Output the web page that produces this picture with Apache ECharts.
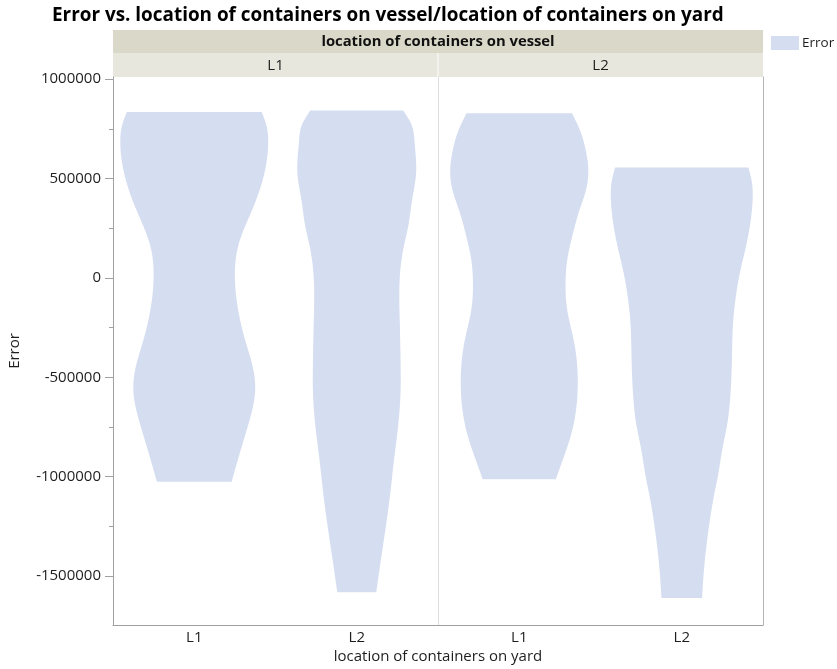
<!DOCTYPE html>
<html><head><meta charset="utf-8">
<script src="https://cdn.jsdelivr.net/npm/echarts@6/dist/echarts.min.js"></script>
<style>html,body{margin:0;padding:0;background:#fff}#chart{width:837px;height:669px}</style>
</head><body><div id="chart"></div>
<script>
const chartTitle = 'Error vs. location of containers on vessel/location of containers on yard';
const vesselTitle = 'location of containers on vessel';
const yardTitle = 'location of containers on yard';
const valueName = 'Error';
const vesselLevels = ['L1', 'L2'];
const yardLevels = ['L1', 'L2'];
const yTickValues = [-1500000, -1000000, -500000, 0, 500000, 1000000];
const yMinorTickValues = [-1250000, -750000, -250000, 250000, 750000];

// Violin outlines: [Error value, half-width as a fraction of half the category band]
const violinVesselL1YardL1 = [
  [835000, 0.83], [765000, 0.89], [680000, 0.91], [505000, 0.85], [340000, 0.71],
  [175000, 0.55], [5000, 0.50], [-160000, 0.54], [-325000, 0.635], [-430000, 0.71],
  [-560000, 0.75], [-745000, 0.66], [-910000, 0.54], [-1025000, 0.46]
];
const violinVesselL1YardL2 = [
  [843000, 0.57], [765000, 0.68], [690000, 0.71], [525000, 0.73], [390000, 0.68],
  [275000, 0.64], [140000, 0.57], [5000, 0.53], [-230000, 0.53], [-445000, 0.54],
  [-560000, 0.54], [-760000, 0.505], [-910000, 0.46], [-1075000, 0.415], [-1245000, 0.36],
  [-1410000, 0.30], [-1581000, 0.24]
];
const violinVesselL2YardL1 = [
  [828000, 0.65], [740000, 0.75], [640000, 0.82], [540000, 0.85], [440000, 0.82],
  [340000, 0.74], [206000, 0.65], [90000, 0.59], [-25000, 0.57], [-160000, 0.59],
  [-293000, 0.66], [-425000, 0.71], [-525000, 0.72], [-660000, 0.70], [-793000, 0.635],
  [-910000, 0.54], [-1013000, 0.45]
];
const violinVesselL2YardL2 = [
  [556000, 0.82], [490000, 0.86], [375000, 0.87], [265000, 0.84], [140000, 0.78],
  [15000, 0.71], [-110000, 0.66], [-235000, 0.63], [-360000, 0.62], [-485000, 0.612],
  [-610000, 0.595], [-735000, 0.56], [-860000, 0.50], [-985000, 0.45], [-1110000, 0.39],
  [-1235000, 0.34], [-1360000, 0.30], [-1485000, 0.27], [-1610000, 0.25]
];
const panelViolins = [
  [violinVesselL1YardL1, violinVesselL1YardL2],
  [violinVesselL2YardL1, violinVesselL2YardL2]
];

const FONT = '"Open Sans", "Noto Sans", sans-serif';
const VIOLIN_COLOR = '#d5ddf0';
const TEXT_COLOR = '#1e1e1e';
const AXIS_COLOR = '#a0a0a0';
const PLOT_LEFT = 113, PLOT_TOP = 77, PLOT_W = 650, PLOT_H = 548;
const PANEL_W = PLOT_W / vesselLevels.length;
const Y_MIN = -1746000, Y_MAX = 1011000;

// natural cubic spline through screen points (y increasing), x as a function of y
function splineOutline(pts) {
  const n = pts.length;
  const ys = pts.map(p => p[1]), xs = pts.map(p => p[0]);
  const h = [], m = new Array(n).fill(0);
  for (let i = 0; i < n - 1; i++) h.push(ys[i + 1] - ys[i]);
  if (n > 2) {
    const A = [], B = [], C = [], D = [];
    for (let i = 1; i < n - 1; i++) {
      A.push(h[i - 1]); B.push(2 * (h[i - 1] + h[i])); C.push(h[i]);
      D.push(6 * ((xs[i + 1] - xs[i]) / h[i] - (xs[i] - xs[i - 1]) / h[i - 1]));
    }
    const k = B.length;
    for (let i = 1; i < k; i++) { const w = A[i] / B[i - 1]; B[i] -= w * C[i - 1]; D[i] -= w * D[i - 1]; }
    const sol = new Array(k);
    sol[k - 1] = D[k - 1] / B[k - 1];
    for (let i = k - 2; i >= 0; i--) sol[i] = (D[i] - C[i] * sol[i + 1]) / B[i];
    for (let i = 0; i < k; i++) m[i + 1] = sol[i];
  }
  const out = [];
  for (let i = 0; i < n - 1; i++) {
    const steps = Math.max(2, Math.ceil(h[i] / 2));
    for (let s = 0; s < steps; s++) {
      const y = ys[i] + h[i] * s / steps;
      const A1 = (ys[i + 1] - y) / h[i], B1 = (y - ys[i]) / h[i];
      const x = A1 * xs[i] + B1 * xs[i + 1] + ((A1 * A1 * A1 - A1) * m[i] + (B1 * B1 * B1 - B1) * m[i + 1]) * h[i] * h[i] / 6;
      out.push([x, y]);
    }
  }
  out.push(pts[n - 1]);
  return out;
}

function makeRenderItem(panelIdx) {
  return function (params, api) {
    const prof = panelViolins[panelIdx][params.dataIndex];
    const cat = api.value(0);
    const half = api.size([1, 0])[0] / 2;
    const right = [], left = [];
    prof.forEach(([v, w]) => {
      const c = api.coord([cat, v]);
      right.push([c[0] + w * half, c[1]]);
      left.push([c[0] - w * half, c[1]]);
    });
    const pts = splineOutline(right).concat(splineOutline(left).reverse());
    return { type: 'polygon', shape: { points: pts }, style: { fill: VIOLIN_COLOR, stroke: null } };
  };
}

const grids = [], xAxes = [], yAxes = [], series = [];
vesselLevels.forEach((lv, p) => {
  grids.push({ left: PLOT_LEFT + p * PANEL_W, top: PLOT_TOP, width: PANEL_W, height: PLOT_H });
  xAxes.push({
    gridIndex: p, type: 'category', data: yardLevels,
    axisLine: { onZero: false, lineStyle: { color: AXIS_COLOR, width: 1 } },
    axisTick: { show: false },
    axisLabel: { margin: 5, fontFamily: FONT, fontSize: 15, color: TEXT_COLOR }
  });
  series.push({
    type: 'custom', name: valueName, xAxisIndex: p, yAxisIndex: p === 0 ? 0 : 2,
    renderItem: makeRenderItem(p),
    itemStyle: { color: VIOLIN_COLOR },
    encode: { x: 0, y: [1, 2] },
    data: panelViolins[p].map((prof, i) => [i, prof[0][0], prof[prof.length - 1][0]])
  });
});
yAxes.push({
  gridIndex: 0, type: 'value', position: 'left', min: Y_MIN, max: Y_MAX,
  name: valueName, nameLocation: 'middle', nameGap: 91,
  nameTextStyle: { fontFamily: FONT, fontSize: 15, color: TEXT_COLOR },
  axisLine: { show: true, lineStyle: { color: AXIS_COLOR } },
  axisTick: { show: true, length: 8, customValues: yTickValues, lineStyle: { color: AXIS_COLOR } },
  axisLabel: { customValues: yTickValues, margin: 12, fontFamily: FONT, fontSize: 15, color: TEXT_COLOR, formatter: v => String(v) },
  splitLine: { show: false }
});
yAxes.push({
  gridIndex: 0, type: 'value', position: 'left', min: Y_MIN, max: Y_MAX,
  axisLine: { show: false },
  axisTick: { show: true, length: 4, customValues: yMinorTickValues, lineStyle: { color: AXIS_COLOR } },
  axisLabel: { show: false }, splitLine: { show: false }
});
yAxes.push({
  gridIndex: 1, type: 'value', position: 'left', min: Y_MIN, max: Y_MAX,
  axisLine: { show: true, lineStyle: { color: '#dedede' } },
  axisTick: { show: false }, axisLabel: { show: false }, splitLine: { show: false }
});
yAxes.push({
  gridIndex: 1, type: 'value', position: 'right', min: Y_MIN, max: Y_MAX,
  axisLine: { show: true, lineStyle: { color: '#b4b4b4' } },
  axisTick: { show: false }, axisLabel: { show: false }, splitLine: { show: false }
});

const graphics = [
  { type: 'rect', shape: { x: PLOT_LEFT, y: 30, width: PLOT_W, height: 23 }, style: { fill: '#dad8c8' } },
  { type: 'rect', shape: { x: PLOT_LEFT, y: 53, width: PLOT_W, height: 24 }, style: { fill: '#e8e7de' } },
  { type: 'text', style: { text: vesselTitle, x: PLOT_LEFT + PLOT_W / 2, y: 42, align: 'center', verticalAlign: 'middle', font: 'bold 14.8px ' + FONT, fill: '#111' } }
];
vesselLevels.forEach((lv, p) => {
  graphics.push({ type: 'text', style: { text: lv, x: PLOT_LEFT + (p + 0.5) * PANEL_W, y: 65.5, align: 'center', verticalAlign: 'middle', font: '15px ' + FONT, fill: TEXT_COLOR } });
  if (p > 0) graphics.push({ type: 'line', shape: { x1: PLOT_LEFT + p * PANEL_W, y1: 53, x2: PLOT_LEFT + p * PANEL_W, y2: 77 }, style: { stroke: '#f4f3ee', lineWidth: 2 } });
});

const chart = echarts.init(document.getElementById('chart'));
chart.setOption({
  animation: false,
  backgroundColor: '#fff',
  title: [
    { text: chartTitle, left: 52, top: 6, padding: 0, textStyle: { fontFamily: FONT, fontSize: 18.9, fontWeight: 'bold', color: '#000' } },
    { text: yardTitle, left: PLOT_LEFT + PLOT_W / 2, textAlign: 'center', top: 649, padding: 0, textStyle: { fontFamily: FONT, fontSize: 15, fontWeight: 'normal', color: TEXT_COLOR } }
  ],
  legend: {
    data: [valueName], left: 771, top: 36, icon: 'rect', itemWidth: 28, itemHeight: 14, padding: 0,
    textStyle: { fontFamily: FONT, fontSize: 13.5, color: TEXT_COLOR, padding: [0, 0, 0, -2] }
  },
  grid: grids, xAxis: xAxes, yAxis: yAxes, series: series, graphic: graphics
});
</script></body></html>
